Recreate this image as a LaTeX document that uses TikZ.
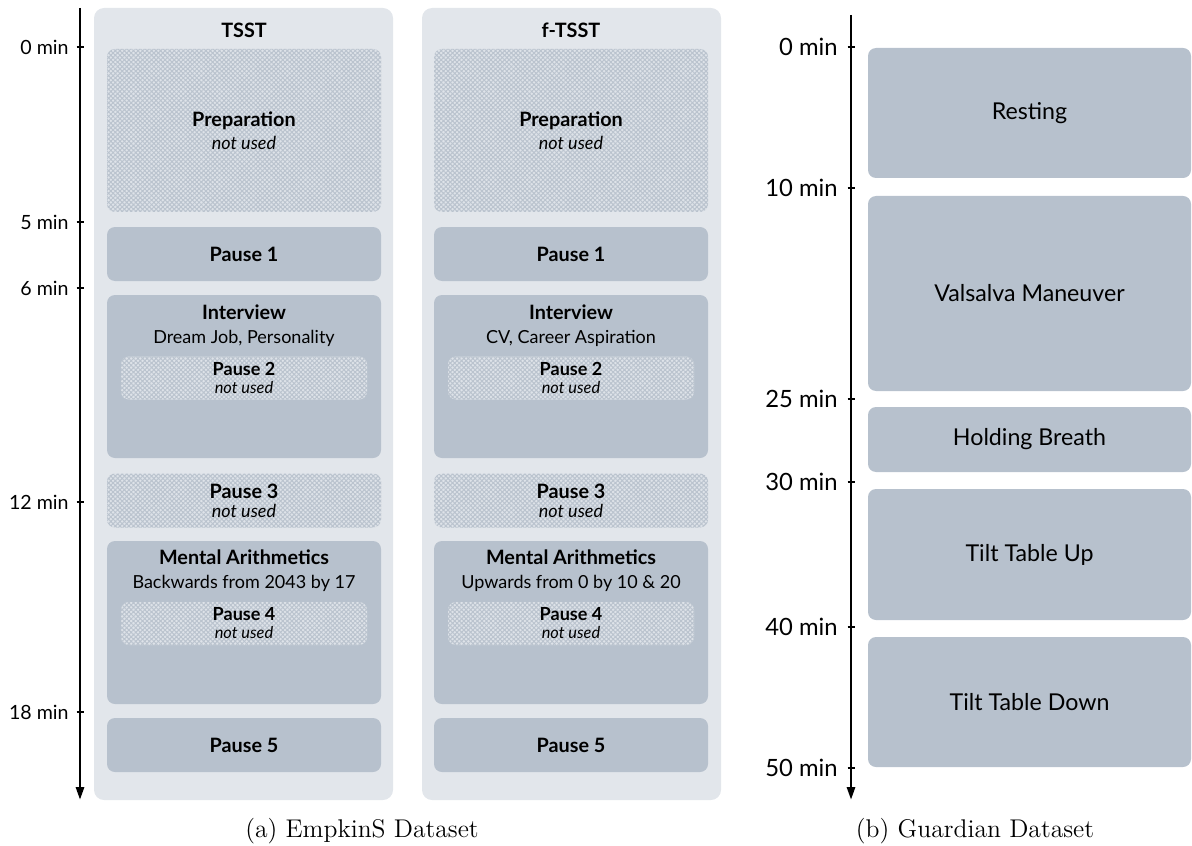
\documentclass[tikz,border=0pt]{standalone}
\usepackage{fontspec}
\newfontfamily\figfont{Lato}[BoldFeatures={Scale=1.1}]
\usetikzlibrary{arrows.meta,patterns.meta}
\definecolor{panelgray}{HTML}{E2E6EB}
\definecolor{phasegray}{HTML}{B7C1CD}
\definecolor{hatchlight}{HTML}{DEE3E9}
\definecolor{hatchdark}{HTML}{BAC3CE}
\begin{document}
\begin{tikzpicture}
  [x=0.5pt,y=-0.5pt,every node/.style={inner sep=0pt,align=center,
   font=\figfont\fontsize{9}{11}\selectfont},
   panel/.style={fill=panelgray,rounded corners=5pt,minimum width=149.5pt,
   minimum height=396pt},
   phase/.style={fill=phasegray,rounded corners=4pt,minimum width=137pt},
   unused/.style={preaction={fill=hatchlight},rounded corners=4pt,
   pattern={Hatch[angle=45,distance=1.6pt,line width=0.5pt]},
   pattern color=hatchdark,minimum width=137pt},
   stagebox/.style={fill=phasegray,rounded corners=4pt,minimum width=161.5pt,
   font=\figfont\fontsize{11.6}{13}\selectfont},
   timeline/.style={line width=1.4pt,-{Triangle[length=6.5pt,width=4pt]}},
   tick/.style={line width=0.9pt},
   minlabel/.style={anchor=east,font=\figfont\fontsize{9.8}{11}\selectfont},
   bigminlabel/.style={anchor=east,font=\figfont\fontsize{11.9}{13}\selectfont},
   caption/.style={font=\rmfamily\fontsize{12.8}{15}\selectfont}]
  \useasboundingbox (0,0) rectangle (1192,845);

  % (a) EmpkinS
  \node (bgA) [panel] at (243.5,404) {};
  \node (bgB) [panel] at (571.5,404) {};
  \node (ttlA) at (244,30) {\bfseries\fontsize{9}{11}\selectfont TSST};
  \node (ttlB) at (571,30) {\bfseries\fontsize{9}{11}\selectfont f-TSST};

  \node (prepA) [unused,minimum height=81.5pt] at (244,130.5)
    {\textbf{Preparation}\\[0.5pt]\textit{not used}};
  \node (prepB) [unused,minimum height=81.5pt] at (571,130.5)
    {\textbf{Preparation}\\[0.5pt]\textit{not used}};
  \node (p1A) [phase,minimum height=27pt] at (244,254) {\textbf{Pause 1}};
  \node (p1B) [phase,minimum height=27pt] at (571,254) {\textbf{Pause 1}};

  \node (intA) [phase,minimum height=81.5pt] at (244,376.5) {};
  \node (intB) [phase,minimum height=81.5pt] at (571,376.5) {};
  \node (intAtxt) at (244,325.5) {\textbf{Interview}\\[1pt]Dream Job, Personality};
  \node (intBtxt) at (571,325.5) {\textbf{Interview}\\[1pt]CV, Career Aspiration};
  \node (p2A) [unused,minimum width=123pt,minimum height=21.5pt,
    font=\figfont\fontsize{8.2}{9}\selectfont] at (244,378)
    {\textbf{Pause 2}\\\textit{not used}};
  \node (p2B) [unused,minimum width=123pt,minimum height=21.5pt,
    font=\figfont\fontsize{8.2}{9}\selectfont] at (571,378)
    {\textbf{Pause 2}\\\textit{not used}};

  \node (p3A) [unused,minimum height=27pt,
    font=\figfont\fontsize{9}{9.5}\selectfont] at (244,500.5)
    {\textbf{Pause 3}\\\textit{not used}};
  \node (p3B) [unused,minimum height=27pt,
    font=\figfont\fontsize{9}{9.5}\selectfont] at (571,500.5)
    {\textbf{Pause 3}\\\textit{not used}};

  \node (matA) [phase,minimum height=81.5pt] at (244,622.5) {};
  \node (matB) [phase,minimum height=81.5pt] at (571,622.5) {};
  \node (matAtxt) at (244,570.5) {\textbf{Mental Arithmetics}\\[1pt]Backwards from 2043 by 17};
  \node (matBtxt) at (571,570.5) {\textbf{Mental Arithmetics}\\[1pt]Upwards from 0 by 10 \& 20};
  \node (p4A) [unused,minimum width=123pt,minimum height=21.5pt,
    font=\figfont\fontsize{8.2}{9}\selectfont] at (244,623.5)
    {\textbf{Pause 4}\\\textit{not used}};
  \node (p4B) [unused,minimum width=123pt,minimum height=21.5pt,
    font=\figfont\fontsize{8.2}{9}\selectfont] at (571,623.5)
    {\textbf{Pause 4}\\\textit{not used}};

  \node (p5A) [phase,minimum height=27pt] at (244,745) {\textbf{Pause 5}};
  \node (p5B) [phase,minimum height=27pt] at (571,745) {\textbf{Pause 5}};

  \coordinate (axAtop) at (80,8);
  \coordinate (axAend) at (80,800);
  \draw[timeline] (axAtop) -- (axAend);
  \draw[tick] (76.5,47) -- (83.5,47);
  \draw[tick] (76.5,222) -- (83.5,222);
  \draw[tick] (76.5,288) -- (83.5,288);
  \draw[tick] (76.5,502) -- (83.5,502);
  \draw[tick] (76.5,712) -- (83.5,712);
  \node (tA0) [minlabel] at (69,47) {0 min};
  \node (tA5) [minlabel] at (69,222) {5 min};
  \node (tA6) [minlabel] at (69,288) {6 min};
  \node (tA12) [minlabel] at (69,502) {12 min};
  \node (tA18) [minlabel] at (69,712) {18 min};

  % (b) Guardian
  \node (rest) [stagebox,minimum height=65pt] at (1029.5,113) {Resting};
  \node (valsalva) [stagebox,minimum height=97.5pt] at (1029.5,293.5) {Valsalva Maneuver};
  \node (breath) [stagebox,minimum height=32.5pt] at (1029.5,439.5) {Holding Breath};
  \node (tiltup) [stagebox,minimum height=65.5pt] at (1029.5,554.5) {Tilt Table Up};
  \node (tiltdown) [stagebox,minimum height=65pt] at (1029.5,702) {Tilt Table Down};

  \coordinate (axBtop) at (851,15);
  \coordinate (axBend) at (851,800);
  \draw[timeline] (axBtop) -- (axBend);
  \draw[tick] (847.5,47) -- (854.5,47);
  \draw[tick] (847.5,188) -- (854.5,188);
  \draw[tick] (847.5,399) -- (854.5,399);
  \draw[tick] (847.5,482) -- (854.5,482);
  \draw[tick] (847.5,627) -- (854.5,627);
  \draw[tick] (847.5,768) -- (854.5,768);
  \node (tB0) [bigminlabel] at (838,47) {0 min};
  \node (tB10) [bigminlabel] at (838,188) {10 min};
  \node (tB25) [bigminlabel] at (838,399) {25 min};
  \node (tB30) [bigminlabel] at (838,482) {30 min};
  \node (tB40) [bigminlabel] at (838,627) {40 min};
  \node (tB50) [bigminlabel] at (838,768) {50 min};

  \node (capA) [caption] at (362,831) {(a) EmpkinS Dataset};
  \node (capB) [caption] at (975,831) {(b) Guardian Dataset};
\end{tikzpicture}
\end{document}
